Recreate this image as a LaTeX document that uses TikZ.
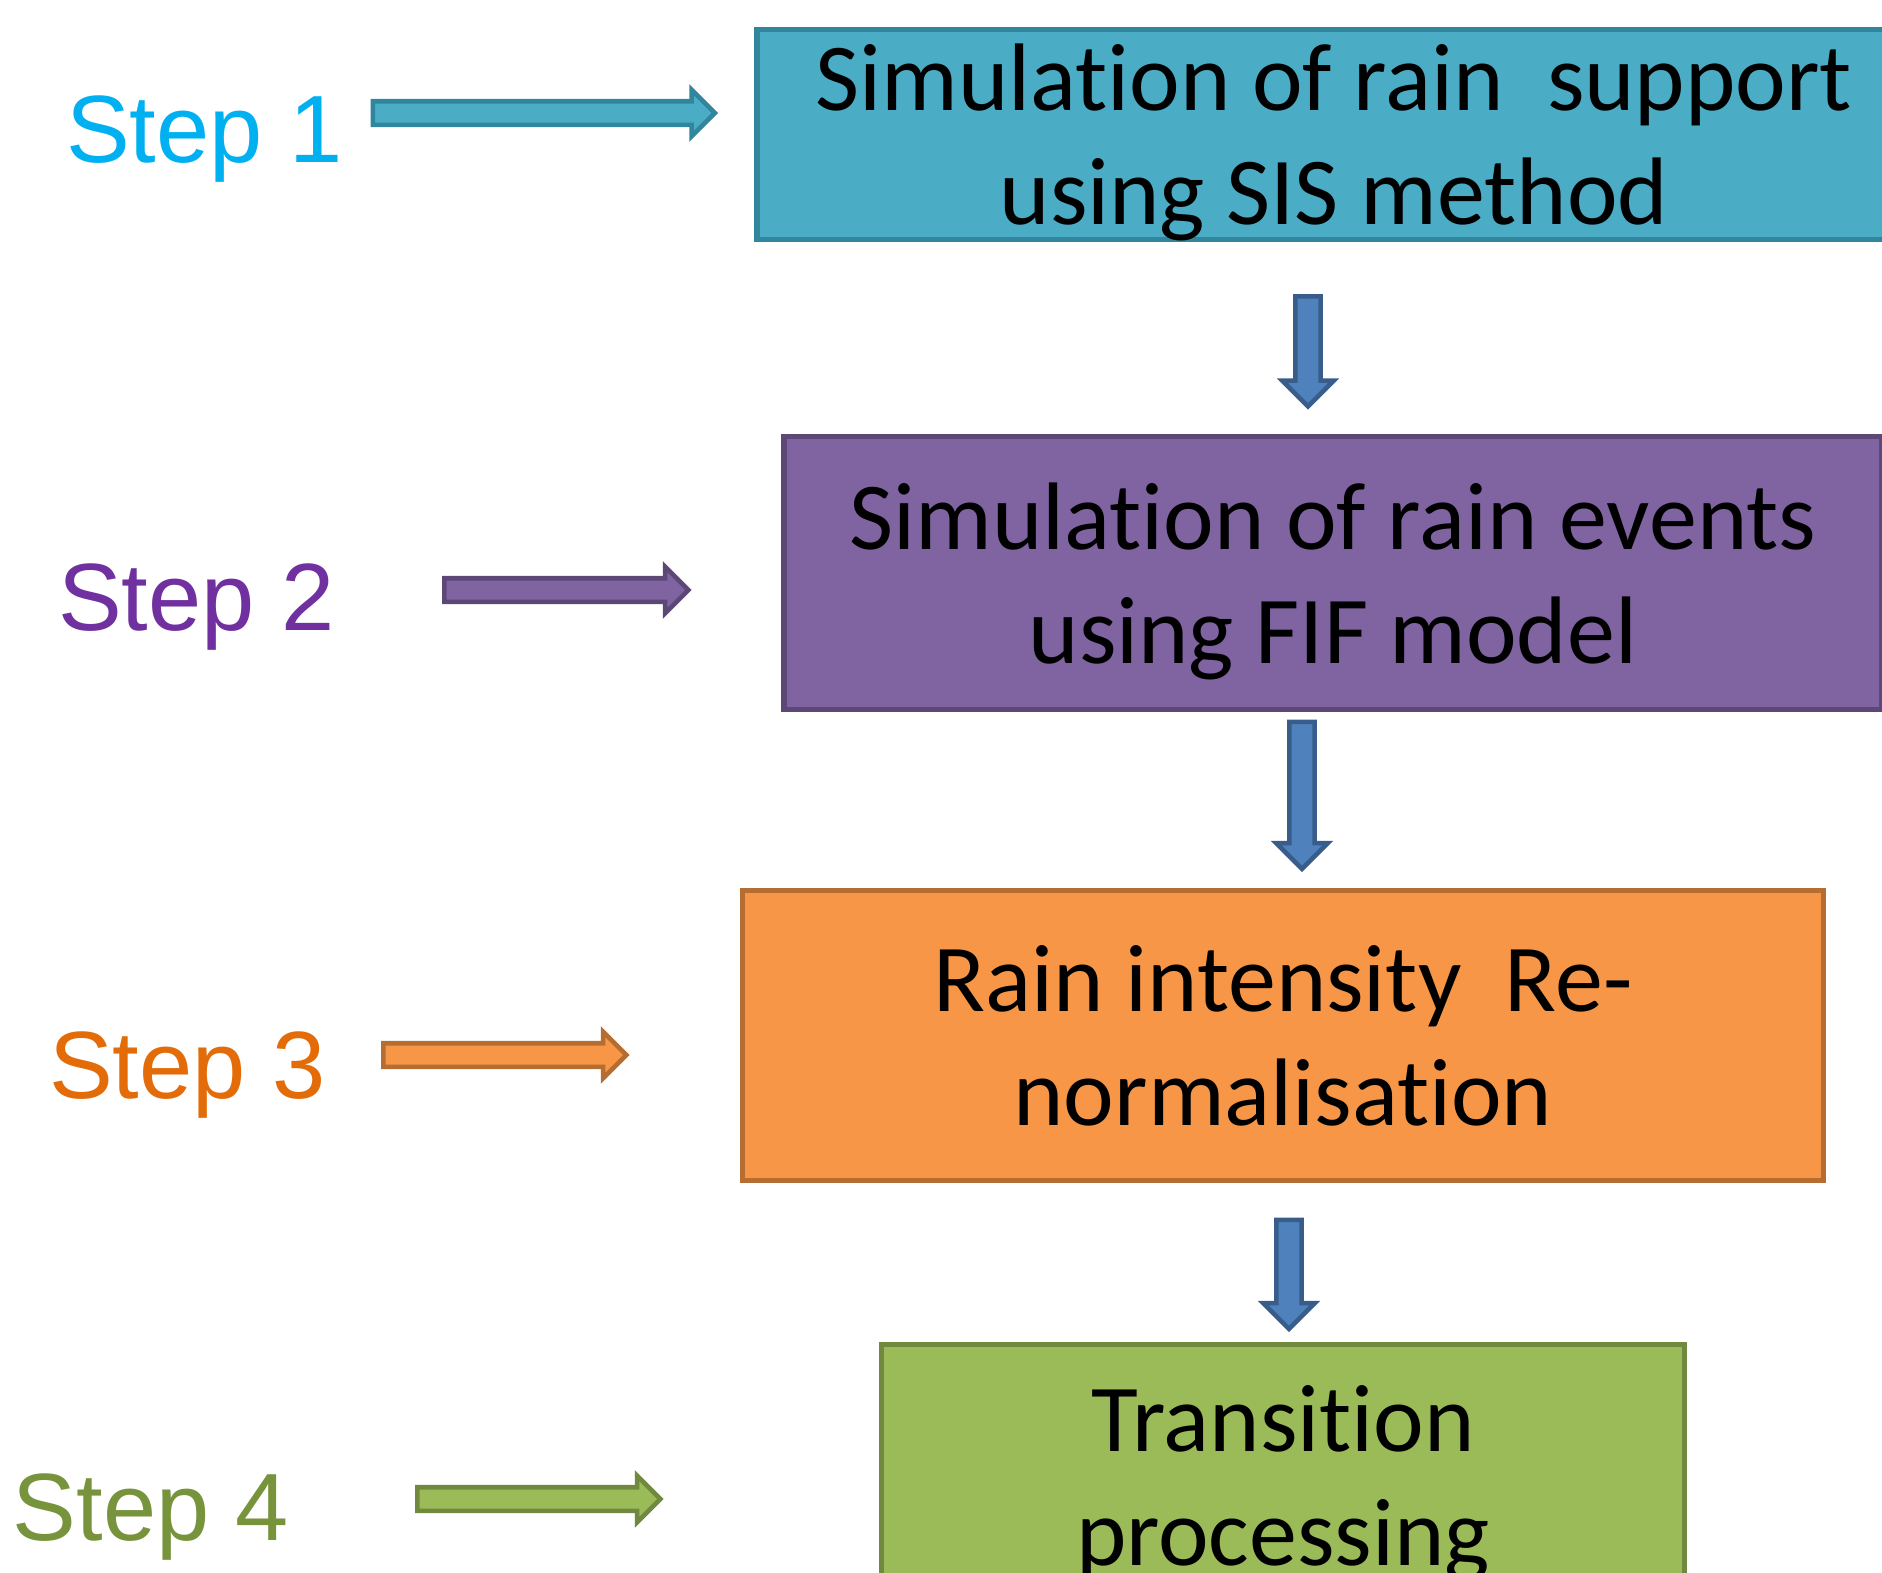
\documentclass[tikz,border=0pt]{standalone}
\usepackage{fontspec}
\setmainfont{Carlito}[Ligatures=CommonOff]
\newfontfamily\stepfont{Liberation Sans}
\usetikzlibrary{shapes.arrows}

\definecolor{supportfill}{HTML}{4BACC6}
\definecolor{supportline}{HTML}{31859C}
\definecolor{eventfill}{HTML}{8064A2}
\definecolor{eventline}{HTML}{5C4776}
\definecolor{renormfill}{HTML}{F79646}
\definecolor{renormline}{HTML}{B66D31}
\definecolor{transfill}{HTML}{9BBB59}
\definecolor{transline}{HTML}{71893F}
\definecolor{flowfill}{HTML}{4F81BD}
\definecolor{flowline}{HTML}{385D8A}
\definecolor{stepblue}{HTML}{00B0F0}
\definecolor{steppurple}{HTML}{7030A0}
\definecolor{steporange}{HTML}{E36C09}
\definecolor{stepgreen}{HTML}{77933C}

\tikzset{
    stage/.style={draw, line width=1.5pt, align=center, inner sep=0pt, text depth=0pt,
        font=\fontsize{27.3}{32.5}\selectfont},
    steplabel/.style={anchor=base west, inner sep=0pt,
        font=\stepfont\fontsize{27.2}{33}\selectfont},
    sidearrow/.style={single arrow, single arrow tip angle=90, inner sep=0pt,
        inner ysep=0.095cm, single arrow head extend=0.115cm, line width=1.3pt},
    flowarrow/.style={single arrow, single arrow tip angle=90, inner sep=0pt,
        inner ysep=0.104cm, single arrow head extend=0.13cm, line width=1.3pt,
        draw=flowline, fill=flowfill, rotate=-90}
}

\begin{document}
\begin{tikzpicture}
    \useasboundingbox (0,0) rectangle (18.82,-15.72);
    \clip (0,0) rectangle (18.82,-15.72);

    % boxes
    \node[stage, draw=supportline, fill=supportfill, minimum width=11.54cm, minimum height=2.10cm]
        (support) at (13.34,-1.345) {Simulation of rain\ \ support\\using SIS method};
    \node[stage, draw=eventline, fill=eventfill, minimum width=10.98cm, minimum height=2.73cm]
        (events) at (13.33,-5.73) {Simulation of rain events\\using FIF model};
    \node[stage, draw=renormline, fill=renormfill, minimum width=10.81cm, minimum height=2.90cm]
        (renorm) at (12.83,-10.355) {Rain intensity\ \ Re-\\normalisation};
    \node[stage, draw=transline, fill=transfill, minimum width=8.03cm, minimum height=2.62cm]
        (trans) at (12.83,-14.755) {Transition\\processing};

    % steps
    \node[steplabel, text=stepblue] (step1) at (0.655,-1.62) {Step 1};
    \node[steplabel, text=steppurple] (step2) at (0.575,-6.30) {Step 2};
    \node[steplabel, text=steporange] (step3) at (0.485,-10.98) {Step 3};
    \node[steplabel, text=stepgreen] (step4) at (0.12,-15.40) {Step 4};

    % arrows to the boxes
    \node[sidearrow, draw=supportline, fill=supportfill, minimum height=3.42cm] (s1) at (5.38,-1.13) {};
    \node[sidearrow, draw=eventline, fill=eventfill, minimum height=2.44cm] (s2) at (5.605,-5.90) {};
    \node[sidearrow, draw=renormline, fill=renormfill, minimum height=2.43cm] (s3) at (4.99,-10.55) {};
    \node[sidearrow, draw=transline, fill=transfill, minimum height=2.43cm] (s4) at (5.33,-14.99) {};

    % arrows between the boxes
    \node[flowarrow, minimum height=1.10cm] (d1) at (13.08,-3.45) {};
    \node[flowarrow, minimum height=1.47cm] (d2) at (13.02,-7.89) {};
    \node[flowarrow, minimum height=1.09cm] (d3) at (12.89,-12.68) {};
\end{tikzpicture}
\end{document}
